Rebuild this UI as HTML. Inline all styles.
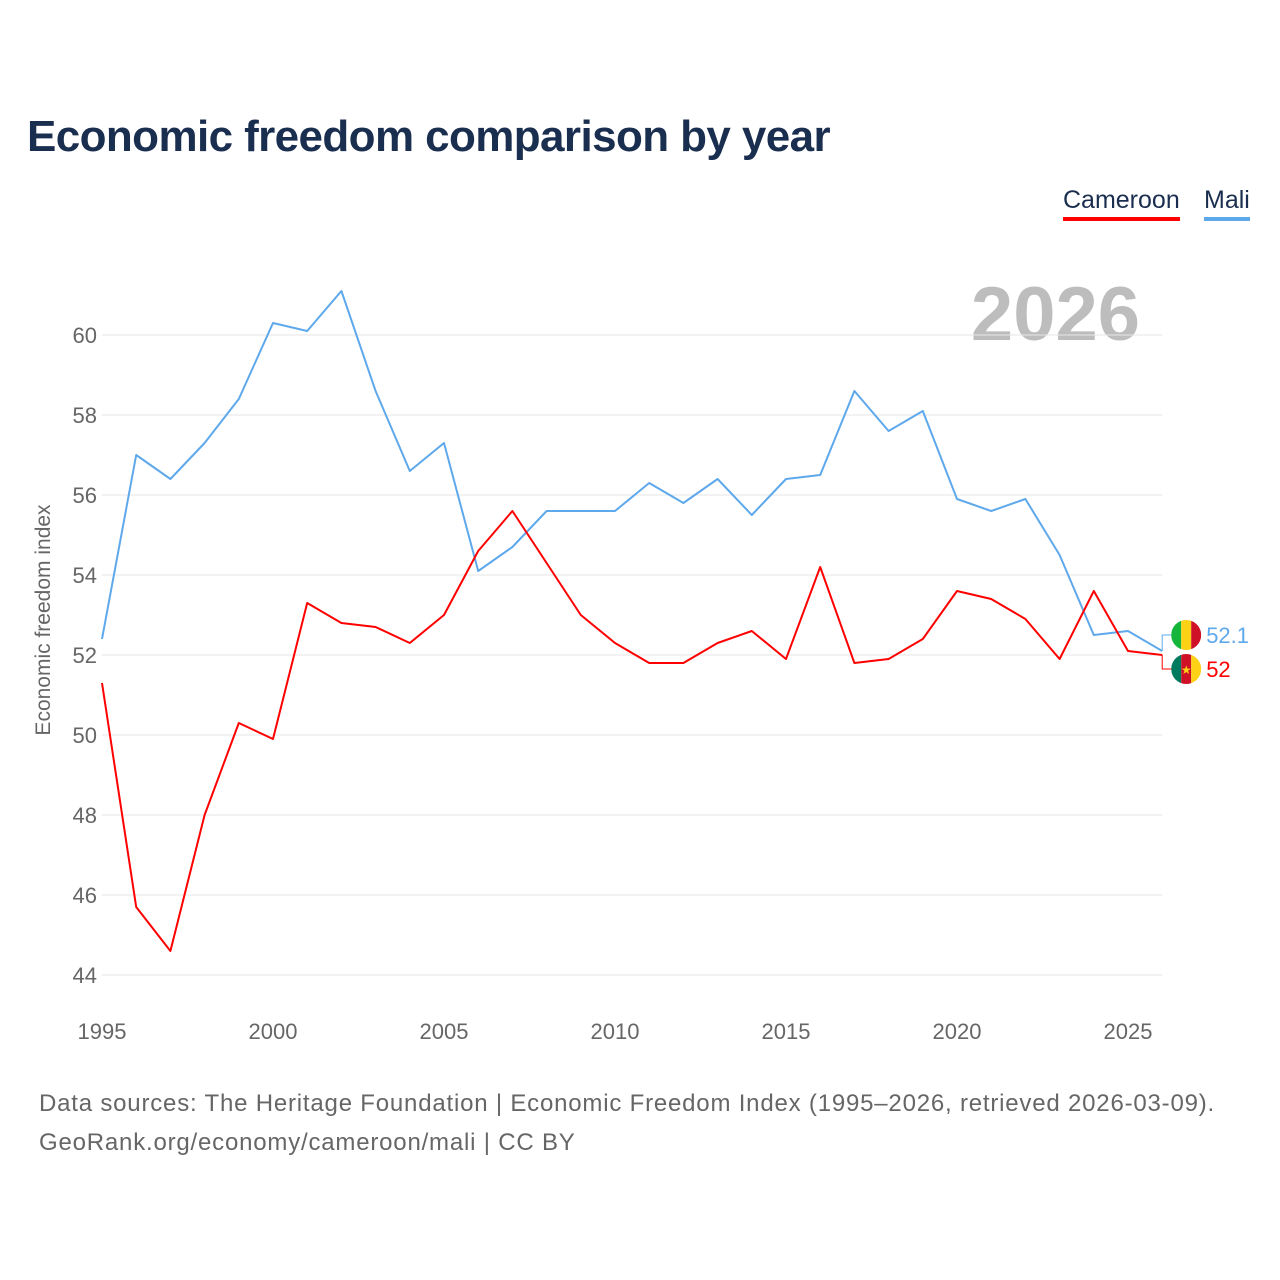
<!DOCTYPE html>
<html><head><meta charset="utf-8"><style>
html,body{margin:0;padding:0;background:#fff;}
body{width:1280px;height:1280px;position:relative;font-family:"Liberation Sans",sans-serif;overflow:hidden}
#title{position:absolute;left:27px;top:112px;font-size:44px;font-weight:bold;color:#1a2e4f;margin:0;letter-spacing:-0.6px}
.leg{position:absolute;top:186px;font-size:25px;color:#1a2e4f;padding-bottom:2px}
#src{position:absolute;left:39px;top:1084px;font-size:24px;color:#666;line-height:39px;letter-spacing:0.8px}
svg{position:absolute;left:0;top:0}
</style></head><body>
<h1 id="title">Economic freedom comparison by year</h1>
<div class="leg" style="left:1063px;border-bottom:4px solid #ff0000">Cameroon</div>
<div class="leg" style="left:1204px;border-bottom:4px solid #5ea8ec">Mali</div>
<svg id="chart" width="1280" height="1280"></svg>
<div id="src">Data sources: The Heritage Foundation | Economic Freedom Index (1995–2026, retrieved 2026-03-09).<br>GeoRank.org/economy/cameroon/mali | CC BY</div>
<script>
const years=[1995,1996,1997,1998,1999,2000,2001,2002,2003,2004,2005,2006,2007,2008,2009,2010,2011,2012,2013,2014,2015,2016,2017,2018,2019,2020,2021,2022,2023,2024,2025,2026];
const mali=[52.4,57.0,56.4,57.3,58.4,60.3,60.1,61.1,58.6,56.6,57.3,54.1,54.7,55.6,55.6,55.6,56.3,55.8,56.4,55.5,56.4,56.5,58.6,57.6,58.1,55.9,55.6,55.9,54.5,52.5,52.6,52.1];
const cameroon=[51.3,45.7,44.6,48.0,50.3,49.9,53.3,52.8,52.7,52.3,53.0,54.6,55.6,54.3,53.0,52.3,51.8,51.8,52.3,52.6,51.9,54.2,51.8,51.9,52.4,53.6,53.4,52.9,51.9,53.6,52.1,52.0];
const yTicks=[44,46,48,50,52,54,56,58,60];
const xTicks=[1995,2000,2005,2010,2015,2020,2025];
const NS="http://www.w3.org/2000/svg";
const svg=document.getElementById('chart');
const x=v=>102+(v-1995)*34.2;
const y=v=>335+(60-v)*40;
function mk(t,a){const e=document.createElementNS(NS,t);for(const k in a)e.setAttribute(k,a[k]);svg.appendChild(e);return e;}
let yr=mk('text',{x:1140,y:340,'text-anchor':'end','font-size':76,'font-weight':'bold',fill:'#bdbdbd','font-family':'Liberation Sans'});
yr.textContent='2026';


yTicks.forEach(t=>{
 const l=mk('line',{x1:102,x2:1162,y1:y(t),y2:y(t),stroke:'#e6e6e6','stroke-width':1});
 
 
 const tx=mk('text',{x:97,y:y(t)+8,'text-anchor':'end','font-size':22,fill:'#666'});
 tx.textContent=t;
 
 
});
xTicks.forEach(t=>{
 const tx=mk('text',{x:x(t),y:1039,'text-anchor':'middle','font-size':22,fill:'#666'});
 tx.textContent=t;
 
 
});
let yt=mk('text',{x:0,y:0,'font-size':21,fill:'#666','text-anchor':'middle',transform:'translate(50,620) rotate(-90)'});
yt.textContent='Economic freedom index';


function line(vals,col,name){
 const p=mk('polyline',{points:vals.map((v,i)=>x(years[i])+','+y(v)).join(' '),fill:'none',stroke:col,'stroke-width':2,'stroke-linejoin':'round'});
 
 
}
line(mali,'#5ea8ec','mali-line');
line(cameroon,'#ff0000','cameroon-line');
const lx=x(2026);
function endLabel(v,ly,col,name,flag){
 const c=mk('polyline',{points:`${lx},${y(v)} ${lx},${ly} ${lx+10},${ly}`,fill:'none',stroke:col,'stroke-width':1});
 
 
 const cx=lx+24;
 const g=document.createElementNS(NS,'g');svg.appendChild(g);
 
 
 const cp=document.createElementNS(NS,'clipPath');cp.id='cp'+name;
 const cc=document.createElementNS(NS,'circle');cc.setAttribute('cx',cx);cc.setAttribute('cy',ly);cc.setAttribute('r',15);cp.appendChild(cc);g.appendChild(cp);
 flag.forEach((f,i)=>{const r=document.createElementNS(NS,'rect');r.setAttribute('x',cx-15+i*10);r.setAttribute('y',ly-15);r.setAttribute('width',10);r.setAttribute('height',30);r.setAttribute('fill',f);r.setAttribute('clip-path','url(#cp'+name+')');g.appendChild(r);});
 const t=mk('text',{x:cx+20,y:ly+8,'font-size':22,fill:col});
 t.textContent=v;
 
 
 return cx;
}
endLabel(mali[mali.length-1],635,'#5ea8ec','mali',['#14b53a','#fcd116','#ce1126']);
const ccx=endLabel(cameroon[cameroon.length-1],669,'#ff0000','cameroon',['#007a5e','#ce1126','#fcd116']);
const st=mk('text',{x:ccx,y:674,'text-anchor':'middle','font-size':12,fill:'#fcd116'});
st.textContent='★';


</script>
</body></html>
